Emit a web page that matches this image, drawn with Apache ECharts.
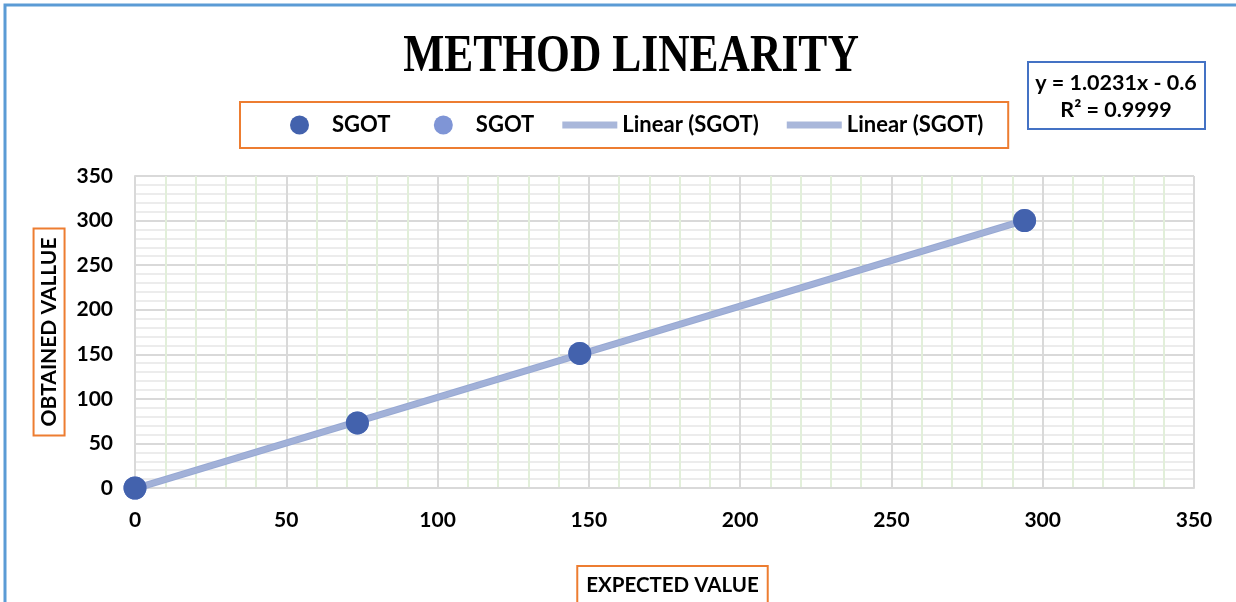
<!DOCTYPE html>
<html><head><meta charset="utf-8">
<script src="https://cdn.jsdelivr.net/npm/echarts@6/dist/echarts.min.js"></script>
<style>html,body{margin:0;padding:0;background:#fff}#c{width:1236px;height:602px}</style>
</head><body><div id="c"></div>
<script>
const titleText = 'METHOD LINEARITY';
const xAxisTitle = 'EXPECTED VALUE';
const yAxisTitle = 'OBTAINED VALLUE';
const expected = [0, 73.5, 147, 294];
const obtained = [0, 73, 151, 300];
const trendX = [0, 294];
const trendY = [-0.6, 300.2];
const equationLines = ['y = 1.0231x - 0.6', 'R² = 0.9999'];
const axisTicks = [0, 50, 100, 150, 200, 250, 300, 350];

const pts = expected.map((x, i) => [x, obtained[i]]);
const trend = trendX.map((x, i) => [x, trendY[i]]);
const F = 'Lato';
const chart = echarts.init(document.getElementById('c'));
const axisCommon = {
  type: 'value', min: axisTicks[0], max: axisTicks[axisTicks.length - 1], interval: 50,
  axisLine: { show: true, lineStyle: { color: '#d9d9d9', width: 2 } },
  axisTick: { show: false },
  axisLabel: { color: '#000', fontFamily: F, fontWeight: 'bold', fontSize: 21, margin: 22 },
  splitLine: { show: true, lineStyle: { color: '#d9d9d9', width: 2 } },
  minorTick: { show: true, splitNumber: 5, length: 0 },
};
chart.setOption({
  animation: false,
  grid: { left: 135, right: 42, top: 176, bottom: 114, containLabel: false, outerBoundsMode: 'none' },
  xAxis: Object.assign({}, axisCommon, {
    name: '{g|}{t|' + xAxisTitle + '}', nameLocation: 'middle', nameGap: 78,
    nameTextStyle: { verticalAlign: 'top',
      rich: {
        g: { width: 16 },
        t: { color: '#000', fontFamily: F, fontWeight: 'bold', fontSize: 20.5,
          borderColor: '#ed7d31', borderWidth: 2, padding: [9, 9, 14, 9] }
      } },
    minorSplitLine: { show: true, lineStyle: { color: '#e2efda', width: 2 } }
  }),
  yAxis: Object.assign({}, axisCommon, {
    name: yAxisTitle, nameLocation: 'middle', nameGap: 63, nameRotate: 90,
    nameTextStyle: { color: '#000', fontFamily: F, fontWeight: 'bold', fontSize: 21,
      borderColor: '#ed7d31', borderWidth: 2, padding: [5, 9, 5, 9] },
    minorSplitLine: { show: true, lineStyle: { color: '#ececec', width: 2 } }
  }),
  legend: {
    top: 102, left: 240,
    padding: [12, 25, 12, 50], itemGap: 28, itemWidth: 55, itemHeight: 19,
    borderColor: '#ed7d31', borderWidth: 2,
    textStyle: { color: '#000', fontFamily: F, fontWeight: 'bold', fontSize: 22 },
    data: [
      { name: 'SGOT', icon: 'circle' },
      { name: 'SGOT ', icon: 'circle' },
      { name: 'Linear (SGOT)', icon: 'path://M0,0h55v7h-55z' },
      { name: 'Linear (SGOT) ', icon: 'path://M0,0h55v7h-55z' }
    ],
    formatter: n => n === 'SGOT' ? 'SGOT\u00a0\u00a0\u00a0' : n.trim()
  },
  series: [
    { name: 'Linear (SGOT)', type: 'line', data: trend, symbol: 'none', z: 2,
      itemStyle: { color: '#a9b7da' }, lineStyle: { color: '#98a9d3', width: 7 } },
    { name: 'Linear (SGOT) ', type: 'line', data: trend, symbol: 'none', z: 2,
      itemStyle: { color: '#a9b7da' }, lineStyle: { color: '#a9b8dc', width: 5, opacity: 0.6 } },
    { name: 'SGOT ', type: 'scatter', data: pts, symbolSize: 23, z: 3,
      itemStyle: { color: '#7f95d6', opacity: 1 } },
    { name: 'SGOT', type: 'scatter', data: pts, symbolSize: 23, z: 4,
      itemStyle: { color: '#4362ad', opacity: 1 } }
  ],
  graphic: [
    { type: 'rect', shape: { x: 5, y: 5, width: 1400, height: 800 }, silent: true,
      style: { fill: 'none', stroke: '#5b9bd5', lineWidth: 3 } },
    { type: 'text', x: 631, y: 57, scaleY: 1.22, silent: true,
      style: { text: titleText, font: 'bold 43.5px "Liberation Serif"', fill: '#000',
        textAlign: 'center', textVerticalAlign: 'middle' } },
    { type: 'rect', shape: { x: 1028, y: 62, width: 177, height: 67 }, silent: true,
      style: { fill: '#fff', stroke: '#4472c4', lineWidth: 2 } },
    { type: 'text', x: 1116, y: 83, silent: true,
      style: { text: equationLines[0], font: 'bold 21.5px Lato', fill: '#000',
        textAlign: 'center', textVerticalAlign: 'middle' } },
    { type: 'text', x: 1116, y: 110, silent: true,
      style: { text: equationLines[1], font: 'bold 21.5px Lato', fill: '#000',
        textAlign: 'center', textVerticalAlign: 'middle' } }
  ]
});
</script></body></html>
